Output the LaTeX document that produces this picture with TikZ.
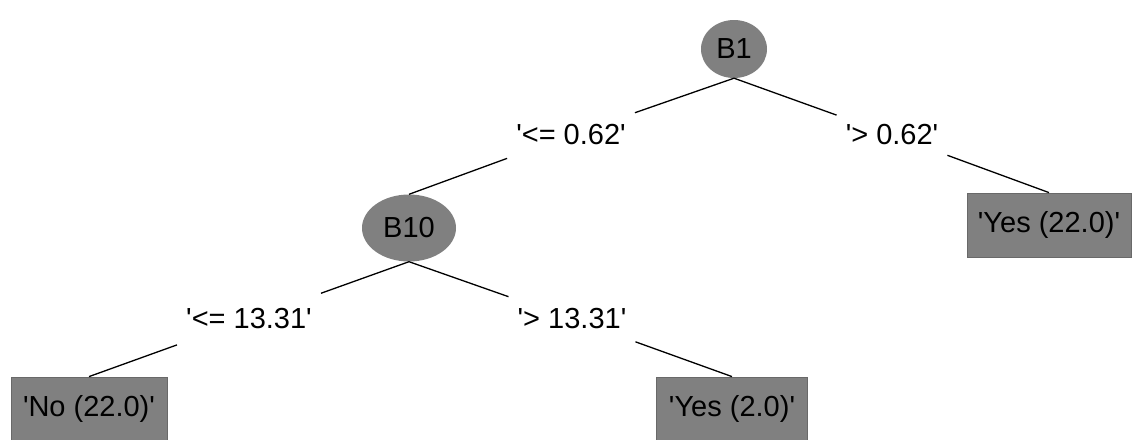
\documentclass[tikz,border=0pt]{standalone}
\usepackage{fontspec}
\newfontfamily\labelfont{Liberation Sans}
\usetikzlibrary{shapes.geometric}
\definecolor{nodegray}{RGB}{128,128,128}
\definecolor{boxedge}{RGB}{105,105,105}
\tikzset{
  every node/.style={font=\labelfont\fontsize{29}{32}\selectfont},
  inner/.style={ellipse, fill=nodegray, inner sep=0pt},
  leaf/.style={rectangle, fill=nodegray, draw=boxedge, line width=0.8pt, minimum width=#1, minimum height=64pt, inner sep=0pt},
  elabel/.style={inner xsep=9pt, inner ysep=0pt, minimum height=56pt},
  edge/.style={line width=1.3pt, black}
}
\begin{document}
\begin{tikzpicture}[x=1pt,y=-1pt]
\useasboundingbox (0,0) rectangle (1134,439);
\fill[white] (0,0) rectangle (1134,439);
\node[inner, minimum width=66pt, minimum height=58pt] (B1) at (734,49) {B1};
\node[inner, minimum width=94pt, minimum height=67pt] (B10) at (409,228) {B10};
\node[leaf=164pt] (Y22) at (1049,225) {'Yes (22.0)'};
\node[leaf=156pt] (N22) at (89,409) {'No (22.0)'};
\node[leaf=151pt] (Y2) at (732,409) {'Yes (2.0)'};
\node[elabel] (l1) at (571,135) {'<= 0.62'};
\node[elabel] (l2) at (892,135) {'> 0.62'};
\node[elabel] (l3) at (249,319) {'<= 13.31'};
\node[elabel] (l4) at (572,319) {'> 13.31'};
\draw[edge] (B1.south) -- (l1) -- (B10.north);
\draw[edge] (B1.south) -- (l2) -- (Y22.north);
\draw[edge] (B10.south) -- (l3) -- (N22.north);
\draw[edge] (B10.south) -- (l4) -- (Y2.north);
\end{tikzpicture}
\end{document}
